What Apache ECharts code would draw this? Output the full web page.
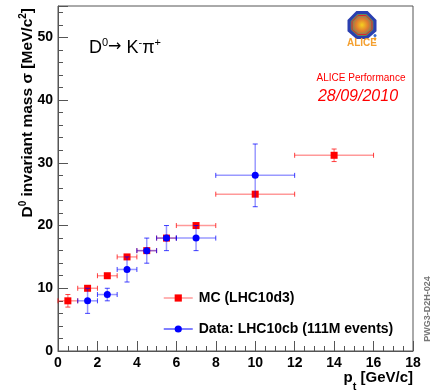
<!DOCTYPE html>
<html>
<head>
<meta charset="utf-8">
<script src="https://cdn.jsdelivr.net/npm/echarts@6/dist/echarts.min.js"></script>
<style>
  html, body { margin: 0; padding: 0; background: #fff; }
  #chart { width: 434px; height: 392px; }
</style>
</head>
<body>
<div id="chart"></div>
<script>
// D0 -> K- pi+ invariant-mass resolution vs transverse momentum
const mcPt        = [0.5, 1.5, 2.5, 3.5, 4.5, 5.5, 7, 10, 14];
const mcPtErr     = [0.5, 0.5, 0.5, 0.5, 0.5, 0.5, 1, 2, 2];
const mcSigma     = [8, 10, 12, 15, 16, 18, 20, 25, 31.2];
const mcSigmaErr  = [1, 0.3, 0.3, 0.3, 0.3, 0.3, 0.3, 0.3, 1];

const dataPt       = [1.5, 2.5, 3.5, 4.5, 5.5, 7, 10];
const dataPtErr    = [0.5, 0.5, 0.5, 0.5, 0.5, 1, 2];
const dataSigma    = [8, 9, 13, 16, 18, 18, 28];
const dataSigmaErr = [2, 1, 2, 2, 2, 2, 5];

const xTicks = { min: 0, max: 18, step: 2 };
const yTicks = { min: 0, max: 55, step: 10 };

const MC_NAME = 'MC (LHC10d3)';
const DATA_NAME = 'Data: LHC10cb (111M events)';

const FONT = 'Liberation Sans, Arial, Helvetica, sans-serif';

function rows(xs, xe, ys, ye) {
  return xs.map((x, i) => [x, ys[i], xe[i], ye[i]]);
}

function errorSeries(data, barColor, capColor, z) {
  return {
    type: 'custom',
    silent: true,
    z: z,
    data: data,
    encode: { x: 0, y: 1 },
    renderItem: function (params, api) {
      const x = api.value(0), y = api.value(1);
      const dx = api.value(2), dy = api.value(3);
      const l = api.coord([x - dx, y]);
      const r = api.coord([x + dx, y]);
      const t = api.coord([x, y + dy]);
      const b = api.coord([x, y - dy]);
      const c = 2.5;
      const bar = { stroke: barColor, lineWidth: 1.5 };
      const cap = { stroke: capColor, lineWidth: 1 };
      return {
        type: 'group',
        children: [
          { type: 'line', shape: { x1: l[0], y1: l[1], x2: r[0], y2: r[1] }, style: bar },
          { type: 'line', shape: { x1: t[0], y1: t[1], x2: b[0], y2: b[1] }, style: bar },
          { type: 'line', shape: { x1: l[0], y1: l[1] - c, x2: l[0], y2: l[1] + c }, style: cap },
          { type: 'line', shape: { x1: r[0], y1: r[1] - c, x2: r[0], y2: r[1] + c }, style: cap },
          { type: 'line', shape: { x1: t[0] - c, y1: t[1], x2: t[0] + c, y2: t[1] }, style: cap },
          { type: 'line', shape: { x1: b[0] - c, y1: b[1], x2: b[0] + c, y2: b[1] }, style: cap }
        ]
      };
    }
  };
}

const chart = echarts.init(document.getElementById('chart'), null, { renderer: 'canvas' });

const axisGray = '#555';

const option = {
  animation: false,
  textStyle: { fontFamily: FONT },
  grid: {
    left: 58, right: 21, top: 6, bottom: 41,
    show: true, borderColor: axisGray, borderWidth: 1, backgroundColor: 'transparent'
  },
  xAxis: {
    type: 'value',
    min: xTicks.min, max: xTicks.max, interval: xTicks.step,
    axisLine: { onZero: false, lineStyle: { color: axisGray, width: 1 } },
    axisTick: { inside: true, length: 10, lineStyle: { color: axisGray } },
    minorTick: { show: true, splitNumber: 4, length: 5, lineStyle: { color: axisGray } },
    splitLine: { show: false },
    axisLabel: { color: '#000', fontSize: 14, fontWeight: 'bold', margin: 5, fontFamily: FONT }
  },
  yAxis: {
    type: 'value',
    min: yTicks.min, max: yTicks.max, interval: yTicks.step,
    axisLine: { show: true, onZero: false, lineStyle: { color: axisGray, width: 1 } },
    axisTick: { show: true, inside: true, length: 10, lineStyle: { color: axisGray } },
    minorTick: { show: true, splitNumber: 5, length: 5, lineStyle: { color: axisGray } },
    splitLine: { show: false },
    axisLabel: { color: '#000', fontSize: 14, fontWeight: 'bold', margin: 5, showMaxLabel: false, fontFamily: FONT }
  },
  legend: {
    orient: 'vertical',
    left: 158, top: 286,
    itemWidth: 29, itemHeight: 9, itemGap: 17,
    selectedMode: false,
    textStyle: { color: '#000', fontSize: 14, fontWeight: 'bold', lineHeight: 14, padding: [0, 0, 0, 1], fontFamily: FONT },
    data: [
      { name: MC_NAME, lineStyle: { opacity: 1, color: 'rgba(255,0,0,0.4)', width: 1.5 }, itemStyle: { color: '#ff0000' } },
      { name: DATA_NAME, lineStyle: { opacity: 1, color: '#0000ff', width: 1 }, itemStyle: { color: '#0000ff' } }
    ]
  },
  series: [
    errorSeries(rows(mcPt, mcPtErr, mcSigma, mcSigmaErr), 'rgba(255,0,0,0.4)', 'rgba(255,0,0,0.75)', 2),
    errorSeries(rows(dataPt, dataPtErr, dataSigma, dataSigmaErr), 'rgba(0,0,255,0.4)', 'rgba(0,0,255,0.75)', 4),
    {
      name: MC_NAME,
      type: 'line',
      z: 3,
      data: mcPt.map((x, i) => [x, mcSigma[i]]),
      symbol: 'rect', symbolSize: 7,
      lineStyle: { opacity: 0 },
      itemStyle: { color: '#ff0000' }
    },
    {
      name: DATA_NAME,
      type: 'line',
      z: 5,
      data: dataPt.map((x, i) => [x, dataSigma[i]]),
      symbol: 'circle', symbolSize: 7,
      lineStyle: { opacity: 0 },
      itemStyle: { color: '#0000ff' }
    }
  ],
  graphic: [
    // decay channel
    {
      type: 'text', left: 89, top: 37,
      style: {
        text: '{b|D}{s|0}{a|\u2192}{b| K}{s|-}{b|\u03c0}{s|+}',
        fill: '#000',
        rich: {
          b: { fontSize: 18, fontFamily: FONT, lineHeight: 20, verticalAlign: 'bottom' },
          a: { fontSize: 16, fontFamily: 'DejaVu Sans, ' + FONT, lineHeight: 20, verticalAlign: 'bottom', padding: [0, 0, 2, 0] },
          s: { fontSize: 11, fontFamily: FONT, lineHeight: 11, verticalAlign: 'top' }
        }
      }
    },
    // y-axis title
    {
      type: 'text', x: 27, y: 8, rotation: Math.PI / 2,
      style: {
        text: '{b|D}{s|0}{b| invariant mass \u03c3 [MeV/c}{s|2}{b|]}',
        align: 'right', verticalAlign: 'middle',
        fill: '#000',
        rich: {
          b: { fontSize: 15.5, fontWeight: 'bold', fontFamily: FONT, lineHeight: 18, verticalAlign: 'bottom' },
          s: { fontSize: 10, fontWeight: 'bold', fontFamily: FONT, lineHeight: 10, verticalAlign: 'top' }
        }
      }
    },
    // x-axis title
    {
      type: 'text', x: 413, y: 392,
      style: {
        text: '{b|p}{sub|t}{b| [GeV/c]}',
        align: 'right', verticalAlign: 'bottom',
        fill: '#000',
        rich: {
          b: { fontSize: 15, fontWeight: 'bold', fontFamily: FONT, lineHeight: 22, verticalAlign: 'top' },
          sub: { fontSize: 11, fontWeight: 'bold', fontFamily: FONT, lineHeight: 11, verticalAlign: 'bottom' }
        }
      }
    },
    // performance tag
    {
      type: 'text', x: 361, y: 78,
      style: { text: 'ALICE Performance', align: 'center', verticalAlign: 'middle', fill: '#ff0000', font: '10px ' + FONT }
    },
    {
      type: 'text', x: 358, y: 97,
      style: { text: '28/09/2010', align: 'center', verticalAlign: 'middle', fill: '#ff0000', font: 'italic 16px ' + FONT }
    },
    // side reference code
    {
      type: 'text', x: 428, y: 309, rotation: Math.PI / 2,
      style: { text: 'PWG3-D2H-024', align: 'center', verticalAlign: 'middle', fill: '#777', font: 'bold 9px ' + FONT }
    },
    // experiment logo
    {
      type: 'group', left: 347, top: 11,
      children: [
        {
          type: 'polygon',
          shape: { points: [[9, 0], [19, 0], [27, 8], [27, 18], [19, 25], [9, 25], [1, 18], [1, 8]] },
          style: {
            fill: new echarts.graphic.RadialGradient(0.5, 0.5, 0.5, [
              { offset: 0, color: '#f5d020' },
              { offset: 0.45, color: '#e07a30' },
              { offset: 0.8, color: '#5a8a60' },
              { offset: 1, color: '#2a4aa0' }
            ]),
            stroke: '#2a3fb0', lineWidth: 3
          }
        },
        {
          type: 'polygon',
          shape: { points: [[10, 3], [18, 3], [24, 9], [24, 17], [18, 22], [10, 22], [4, 17], [4, 9]] },
          style: { fill: 'none', stroke: '#e02030', lineWidth: 1 }
        },
        { type: 'circle', shape: { cx: 27, cy: 23, r: 1.5 }, style: { fill: '#3a6ad0' } },
        { type: 'rect', shape: { x: 26, y: 25, width: 2, height: 3 }, style: { fill: '#f0a020' } },
        {
          type: 'text', x: 14, y: 31,
          style: { text: 'ALICE', align: 'center', verticalAlign: 'middle', fill: '#f4a030', font: 'bold 10px ' + FONT }
        }
      ]
    }
  ]
};

chart.setOption(option);
</script>
</body>
</html>
